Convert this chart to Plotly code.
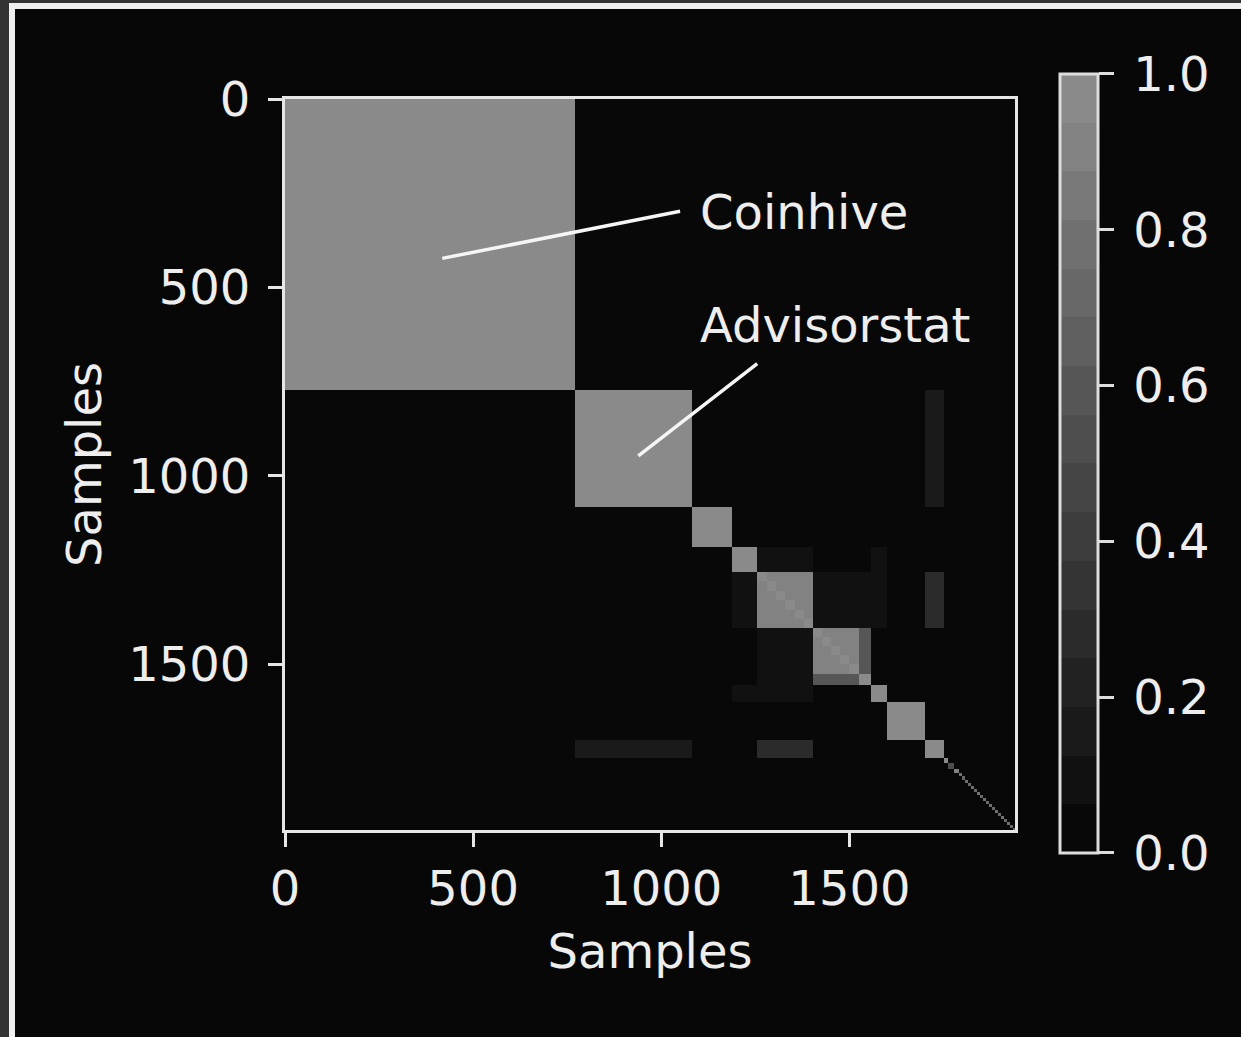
import numpy as np
import plotly.graph_objects as go

N_SAMPLES = 1940

# diagonal cluster blocks (sample index ranges) and within-block similarity, applied in order
block_start = [0, 771, 1082, 1189, 1255, 1255, 1280, 1305, 1330, 1355, 1380, 1404, 1404, 1428, 1452, 1476, 1500,
               1526, 1556, 1600, 1702, 1750, 1763, 1777]
block_end = [771, 1082, 1189, 1255, 1404, 1280, 1305, 1330, 1355, 1380, 1404, 1526, 1428, 1452, 1476, 1500, 1526,
             1556, 1600, 1702, 1750, 1763, 1777, 1790]
block_value = [1.0, 1.0, 1.0, 1.0, 0.93, 1.0, 1.0, 1.0, 1.0, 1.0, 1.0, 0.93, 1.0, 1.0, 1.0, 1.0, 1.0,
               1.0, 1.0, 1.0, 1.0, 0.95, 0.55, 0.9]

# tail of tiny clusters along the diagonal
tail_start = [1790, 1798, 1806, 1814, 1822, 1830, 1838, 1846, 1854, 1862, 1870, 1878, 1886,
              1894, 1902, 1910, 1918, 1926, 1934]
tail_end = [1798, 1806, 1814, 1822, 1830, 1838, 1846, 1854, 1862, 1870, 1878, 1886, 1894,
            1902, 1910, 1918, 1926, 1934, 1940]
tail_value = [0.75, 0.7, 0.75, 0.7, 0.75, 0.7, 0.75, 0.7, 0.75, 0.7, 0.75, 0.7, 0.75,
              0.7, 0.75, 0.7, 0.75, 0.7, 0.75]

# off-diagonal similarity patches (mirrored)
patch_row0 = [771, 1255, 1189, 1255, 1189, 1404]
patch_row1 = [1082, 1404, 1255, 1404, 1404, 1526]
patch_col0 = [1702, 1702, 1255, 1404, 1556, 1526]
patch_col1 = [1750, 1750, 1404, 1556, 1600, 1556]
patch_value = [0.15, 0.28, 0.08, 0.09, 0.07, 0.58]

colorbar_ticks = [0.0, 0.2, 0.4, 0.6, 0.8, 1.0]
axis_ticks = [0, 500, 1000, 1500]

# ---- build the cell grid from the boundaries ----
all_starts = block_start + tail_start
all_ends = block_end + tail_end
all_vals = block_value + tail_value
edges = sorted(set([0, N_SAMPLES] + all_starts + all_ends + patch_row0 + patch_row1 + patch_col0 + patch_col1))
edges = np.array(edges, dtype=float)
mid = (edges[:-1] + edges[1:]) / 2
R, C = np.meshgrid(mid, mid, indexing="ij")
z = np.zeros((len(mid), len(mid)))
for r0, r1, c0, c1, v in zip(patch_row0, patch_row1, patch_col0, patch_col1, patch_value):
    z[(R > r0) & (R < r1) & (C > c0) & (C < c1)] = v
    z[(C > r0) & (C < r1) & (R > c0) & (R < c1)] = v
for s, e, v in zip(all_starts, all_ends, all_vals):
    z[(R > s) & (R < e) & (C > s) & (C < e)] = v

# discrete 16-level gray colormap
levels = ["#080808", "#111111", "#1a1a1a", "#222222", "#2b2b2b", "#343434", "#3c3c3c", "#454545",
          "#4e4e4e", "#565656", "#5f5f5f", "#686868", "#707070", "#797979", "#828282", "#8a8a8a"]
cs = []
n = len(levels)
for k, c in enumerate(levels):
    cs.append([k / n, c])
    cs.append([(k + 1) / n, c])

FG = "#eeeeee"
FONT = "DejaVu Sans"
FS = 48

fig = go.Figure(go.Heatmap(
    z=z, x=edges, y=edges, zmin=0, zmax=1, colorscale=cs, zsmooth=False,
    hoverinfo="skip",
    colorbar=dict(
        x=1.0616, xanchor="left", y=1.0342, yanchor="top",
        len=779, lenmode="pixels", thickness=38, thicknessmode="pixels",
        xpad=0, ypad=0, outlinewidth=3, outlinecolor="#dddddd",
        tickvals=colorbar_ticks, ticktext=["\u2009" + f"{t:.1f}" for t in colorbar_ticks],
        ticks="outside", ticklen=15, tickwidth=3, tickcolor="#dddddd",
        tickfont=dict(family=FONT, size=FS, color=FG),
    ),
))

axis_common = dict(
    showline=True, linecolor="#e6e6e6", linewidth=3, mirror=True,
    ticks="outside", ticklen=14, tickwidth=3, tickcolor="#e6e6e6",
    tickvals=axis_ticks, tickfont=dict(family=FONT, size=FS, color=FG),
    showgrid=False, zeroline=False,
)

fig.update_layout(
    width=1241, height=1037,
    margin=dict(l=285, r=226, t=99, b=207),
    paper_bgcolor="#070707", plot_bgcolor="#080808",
    font=dict(family=FONT, size=FS, color=FG),
    xaxis=dict(range=[0, N_SAMPLES], title=dict(text="Samples", font=dict(size=FS, color=FG), standoff=20),
               **axis_common),
    yaxis=dict(range=[N_SAMPLES, 0], title=dict(text="Samples", font=dict(size=FS, color=FG), standoff=12),
               ticklabelstandoff=8, **axis_common),
    showlegend=False,
)

# annotation leader lines
fig.add_shape(type="line", xref="x", yref="y", x0=418, y0=423, x1=1050, y1=298,
              line=dict(color="#f5f5f5", width=3.5))
fig.add_shape(type="line", xref="x", yref="y", x0=939, y0=947, x1=1255, y1=702,
              line=dict(color="#f5f5f5", width=3.5))
fig.add_annotation(x=1098, y=300, xref="x", yref="y", text="Coinhive", showarrow=False,
                   xanchor="left", yanchor="middle", font=dict(family=FONT, size=FS, color=FG))
fig.add_annotation(x=1098, y=601, xref="x", yref="y", text="Advisorstat", showarrow=False,
                   xanchor="left", yanchor="middle", font=dict(family=FONT, size=FS, color=FG))

# outer screenshot frame
def px_x(p):
    return (p - 285) / 730.0

def px_y(p):
    return 1 - (p - 99) / 731.0

fig.add_shape(type="rect", xref="paper", yref="paper", x0=px_x(0), x1=px_x(1241), y0=px_y(0), y1=px_y(3),
              fillcolor="#333333", line=dict(width=0), layer="above")
fig.add_shape(type="rect", xref="paper", yref="paper", x0=px_x(0), x1=px_x(9), y0=px_y(0), y1=px_y(1037),
              fillcolor="#333333", line=dict(width=0), layer="above")
fig.add_shape(type="rect", xref="paper", yref="paper", x0=px_x(9), x1=px_x(1241), y0=px_y(3), y1=px_y(9),
              fillcolor="#f0f0f0", line=dict(width=0), layer="above")
fig.add_shape(type="rect", xref="paper", yref="paper", x0=px_x(9), x1=px_x(15), y0=px_y(3), y1=px_y(1037),
              fillcolor="#f0f0f0", line=dict(width=0), layer="above")

fig.write_html("out.html")
